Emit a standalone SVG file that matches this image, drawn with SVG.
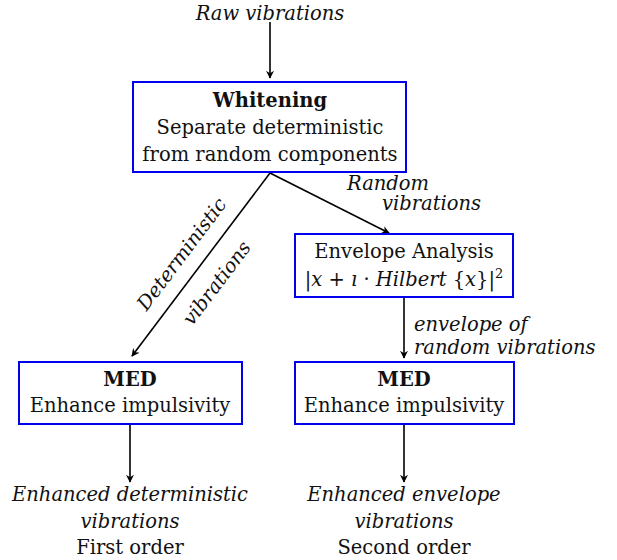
<svg xmlns="http://www.w3.org/2000/svg" width="617" height="560" viewBox="0 0 617 560">
<style>
text{font-family:"DejaVu Serif","Liberation Serif",serif;font-size:19.5px;fill:#111;}
.it{font-style:italic;}
.b{font-weight:bold;}
.box{fill:#fff;stroke:#0000ee;stroke-width:2;}
.ln{stroke:#000;stroke-width:1.6;fill:none;marker-end:url(#ah);}
</style>
<defs>
<marker id="ah" viewBox="0 0 10 10" refX="9" refY="5" markerWidth="8" markerHeight="8" markerUnits="userSpaceOnUse" orient="auto">
<path d="M0,0 L10,5 L0,10 L3,5 Z" fill="#000"/>
</marker>
</defs>
<g id="connectors">
<line class="ln" x1="270" y1="22" x2="270" y2="78"/>
<line class="ln" x1="270" y1="173" x2="132" y2="356"/>
<line class="ln" x1="270" y1="173" x2="389" y2="233"/>
<line class="ln" x1="404" y1="297" x2="404" y2="358"/>
<line class="ln" x1="130" y1="424" x2="130" y2="482"/>
<line class="ln" x1="404" y1="424" x2="404" y2="482"/>
<text class="it" x="347" y="190">Random</text>
<text class="it" x="382" y="210">vibrations</text>
<text class="it" x="187" y="258" text-anchor="middle" transform="rotate(-53 187 258)">Deterministic</text>
<text class="it" x="222" y="287" text-anchor="middle" transform="rotate(-53 222 287)">vibrations</text>
<text class="it" x="414" y="331">envelope of</text>
<text class="it" x="414" y="354">random vibrations</text>
</g>
<g id="input">
<text class="it" x="270" y="20" text-anchor="middle">Raw vibrations</text>
</g>
<g id="whitening">
<rect class="box" x="133" y="82" width="273" height="90"/>
<text class="b" x="270" y="107" text-anchor="middle">Whitening</text>
<text x="270" y="134" text-anchor="middle">Separate deterministic</text>
<text x="270" y="161" text-anchor="middle">from random components</text>
</g>
<g id="envelope">
<rect class="box" x="295" y="234" width="218" height="63"/>
<text x="404" y="258" text-anchor="middle">Envelope Analysis</text>
<text x="404" y="286" text-anchor="middle">|<tspan class="it">x</tspan> + <tspan class="it">ı</tspan> · <tspan class="it">Hilbert</tspan> {<tspan class="it">x</tspan>}|<tspan dy="-8" font-size="13">2</tspan></text>
</g>
<g id="med1">
<rect class="box" x="19" y="362" width="223" height="62"/>
<text class="b" x="130" y="386" text-anchor="middle">MED</text>
<text x="130" y="412" text-anchor="middle">Enhance impulsivity</text>
</g>
<g id="med2">
<rect class="box" x="295" y="362" width="219" height="62"/>
<text class="b" x="404" y="386" text-anchor="middle">MED</text>
<text x="404" y="412" text-anchor="middle">Enhance impulsivity</text>
</g>
<g id="out1">
<text class="it" x="130" y="501" text-anchor="middle">Enhanced deterministic</text>
<text class="it" x="130" y="528" text-anchor="middle">vibrations</text>
<text x="130" y="554" text-anchor="middle">First order</text>
</g>
<g id="out2">
<text class="it" x="404" y="501" text-anchor="middle">Enhanced envelope</text>
<text class="it" x="404" y="528" text-anchor="middle">vibrations</text>
<text x="404" y="554" text-anchor="middle">Second order</text>
</g>
</svg>
